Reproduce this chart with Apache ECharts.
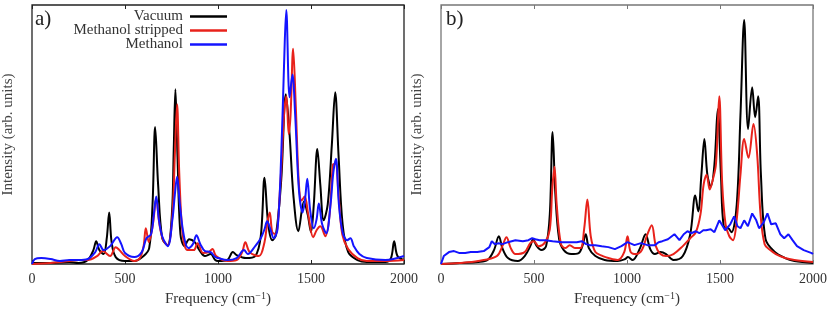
<!DOCTYPE html>
<html>
<head>
<meta charset="utf-8">
<script src="https://cdn.jsdelivr.net/npm/echarts@6/dist/echarts.min.js"></script>
<style>html,body{margin:0;padding:0;background:#fff}#c{width:830px;height:312px}</style>
</head>
<body>
<div id="c"></div>
<script>
// Frequency axis ticks
const xTicks = [0, 500, 1000, 1500, 2000];
const seriesNames = ['Vacuum', 'Methanol stripped', 'Methanol'];
const panelLabels = ['a)', 'b)'];

// Panel a: [frequency (cm^-1), intensity (arb. units)]
const aVacuum = [[0,1],[100,1],[200,2],[250,1],[300,4],[330,14],[345,23],[362,14],[385,10],[402,26],[415,52],[428,22],[450,7],[500,3],[550,3],[600,8],[630,16],[648,60],[662,138],[678,80],[700,26],[729,19],[752,50],[762,115],[771,176],[782,110],[798,30],[820,18],[845,25],[875,22],[900,14],[930,8],[960,10],[985,4],[1000,3],[1050,4],[1080,12],[1100,9],[1150,6],[1200,8],[1230,28],[1250,87],[1270,40],[1292,24],[1312,30],[1340,85],[1365,171],[1385,130],[1405,70],[1432,33],[1462,63],[1482,50],[1500,32],[1515,60],[1534,116],[1550,80],[1568,44],[1590,60],[1612,120],[1630,173],[1648,110],[1670,40],[1700,12],[1750,4],[1800,2],[1900,2],[1930,6],[1947,23],[1965,8],[2000,4]];
const aStripped = [[0,0],[100,1],[200,3],[250,4],[300,4],[350,8],[380,13],[420,8],[450,17],[470,14],[500,8],[550,3],[580,6],[600,18],[612,36],[628,22],[650,40],[668,66],[685,40],[705,24],[730,19],[755,50],[768,110],[780,161],[792,90],[810,30],[835,14],[870,14],[890,21],[920,11],[950,12],[970,15],[990,8],[1050,3],[1100,4],[1130,12],[1147,22],[1170,12],[1220,8],[1250,22],[1265,42],[1278,52],[1292,32],[1310,30],[1335,80],[1355,150],[1368,169],[1380,131],[1390,150],[1404,217],[1418,160],[1435,80],[1450,64],[1466,68],[1485,50],[1512,27],[1530,34],[1550,38],[1577,28],[1600,50],[1618,100],[1632,101],[1648,70],[1668,30],[1700,15],[1750,6],[1800,3],[1900,3],[2000,4]];
const aMethanol = [[0,0],[15,5],[50,6],[100,5],[150,3],[200,4],[250,4],[300,5],[340,12],[362,20],[385,14],[420,18],[458,27],[480,20],[500,11],[550,7],[590,12],[615,26],[640,30],[655,50],[668,68],[682,45],[700,28],[730,18],[755,45],[768,70],[780,88],[795,60],[815,30],[840,16],[865,20],[884,29],[905,20],[930,13],[960,12],[985,7],[1000,6],[1050,4],[1100,6],[1140,14],[1160,10],[1200,18],[1230,26],[1250,35],[1264,43],[1280,36],[1300,26],[1320,35],[1340,110],[1355,200],[1367,256],[1385,168],[1400,191],[1415,150],[1435,75],[1455,52],[1468,65],[1480,86],[1495,55],[1515,36],[1530,45],[1542,61],[1560,40],[1582,31],[1605,60],[1620,92],[1634,106],[1650,60],[1670,32],[1695,24],[1712,26],[1730,18],[1760,10],[1800,6],[1900,4],[2000,8]];

// Panel b
const bVacuum = [[0,0],[100,1],[200,2],[250,4],[285,14],[311,28],[330,16],[360,6],[413,3],[450,8],[480,18],[495,25],[515,18],[540,14],[565,18],[585,50],[600,133],[615,70],[635,25],[660,14],[700,10],[740,11],[760,18],[778,30],[795,16],[830,8],[880,4],[950,3],[990,5],[1005,7],[1030,4],[1070,16],[1100,30],[1125,15],[1150,10],[1180,12],[1210,10],[1250,4],[1300,8],[1340,30],[1367,69],[1383,53],[1400,90],[1416,126],[1432,90],[1450,78],[1470,100],[1488,156],[1505,90],[1520,38],[1545,36],[1562,32],[1590,60],[1610,150],[1630,246],[1651,136],[1673,178],[1689,148],[1705,169],[1720,90],[1745,25],[1790,13],[1850,6],[1900,3],[2000,1]];
const bStripped = [[0,0],[100,1],[200,3],[300,8],[330,18],[352,27],[375,16],[400,10],[450,12],[480,21],[500,23],[525,18],[560,22],[585,35],[598,75],[610,98],[622,60],[645,20],[670,16],[692,19],[720,16],[750,16],[770,36],[787,65],[805,28],[830,12],[870,8],[900,6],[950,4],[985,12],[1003,28],[1020,12],[1050,10],[1080,14],[1110,30],[1133,39],[1155,18],[1180,10],[1210,8],[1250,10],[1300,18],[1340,26],[1370,32],[1395,50],[1412,80],[1428,90],[1445,75],[1460,84],[1478,100],[1496,169],[1512,80],[1530,40],[1550,28],[1570,24],[1590,45],[1610,90],[1630,126],[1653,107],[1680,141],[1700,110],[1718,50],[1740,20],[1770,14],[1800,10],[1850,6],[1900,4],[2000,2]];
const bMethanol = [[0,0],[15,8],[43,12],[70,13],[100,11],[130,11],[160,12],[195,12],[230,13],[260,17],[273,23],[290,20],[310,21],[330,20],[360,22],[400,24],[440,23],[470,24],[490,26],[508,25],[530,24],[560,24],[600,23],[650,22],[700,22],[730,22],[757,23],[780,20],[800,19],[830,19],[864,18],[900,17],[935,15],[970,18],[1003,22],[1040,19],[1075,21],[1110,19],[1150,19],[1170,22],[1190,23],[1220,25],[1255,30],[1282,24],[1305,30],[1325,33],[1345,31],[1370,33],[1389,31],[1410,34],[1425,34],[1450,35],[1470,32],[1496,44],[1528,34],[1555,40],[1576,48],[1594,38],[1610,36],[1630,44],[1650,38],[1673,51],[1695,44],[1710,36],[1735,42],[1755,51],[1775,40],[1800,41],[1824,30],[1845,26],[1868,30],[1890,24],[1914,18],[1950,14],[1993,11],[2000,10]];

const colors = ['#000000', '#e8221b', '#1414ff'];
const FONT = 'Liberation Serif';
const chart = echarts.init(document.getElementById('c'), null, {renderer: 'canvas'});

function xAx(gi, pos, show, border) {
  return {
    type: 'value', gridIndex: gi, position: pos, min: xTicks[0], max: xTicks[xTicks.length-1],
    interval: xTicks[1]-xTicks[0],
    axisLine: {show: false},
    axisTick: {show: true, inside: true, length: 4, lineStyle: {color: border, width: 1}},
    splitLine: {show: false},
    axisLabel: {show: show, color: '#333', fontFamily: FONT, fontSize: 14, margin: 8,
      formatter: function (v) { return String(v); }},
    name: show ? 'Frequency (cm{sup|\u22121})' : '',
    nameLocation: 'middle', nameGap: 27,
    nameTextStyle: {color: '#333', fontFamily: FONT, fontSize: 15,
      rich: {sup: {fontFamily: FONT, fontSize: 10, verticalAlign: 'top', padding: [0,0,7,0], color: '#333'}}}
  };
}
function yAx(gi) {
  return {
    type: 'value', gridIndex: gi, min: 0, max: 261,
    axisLine: {show: false}, axisTick: {show: false}, axisLabel: {show: false}, splitLine: {show: false},
    name: 'Intensity (arb. units)', nameLocation: 'middle', nameGap: 16,
    nameTextStyle: {color: '#444', fontFamily: FONT, fontSize: 15}
  };
}
function ser(name, data, xi, yi, ci, smooth) {
  return {name: name, type: 'line', data: data, xAxisIndex: xi, yAxisIndex: yi,
    showSymbol: false, smooth: smooth, animation: false,
    lineStyle: {color: colors[ci], width: 2}, itemStyle: {color: colors[ci]}};
}
const legendTops = [9, 23, 37];
const option = {
  animation: false,
  grid: [
    {left: 31, right: 426, top: 5, bottom: 46, show: true, borderColor: '#222', borderWidth: 1.3, backgroundColor: 'transparent'},
    {left: 441, right: 16, top: 5, bottom: 46, show: true, borderColor: '#777', borderWidth: 1.3, backgroundColor: 'transparent'}
  ],
  xAxis: [xAx(0, 'bottom', true, '#222'), xAx(0, 'top', false, '#222'), xAx(1, 'bottom', true, '#777'), xAx(1, 'top', false, '#777')],
  yAxis: [yAx(0), yAx(1)],
  title: [
    {text: panelLabels[0], left: 35, top: 9, padding: 0, textStyle: {fontFamily: FONT, fontSize: 21, fontWeight: 'normal', color: '#222'}},
    {text: panelLabels[1], left: 446, top: 9, padding: 0, textStyle: {fontFamily: FONT, fontSize: 21, fontWeight: 'normal', color: '#222'}}
  ],
  legend: seriesNames.map((n, i) => ({
    data: [n], right: 603, top: legendTops[i], orient: 'vertical', align: 'right', padding: 0,
    icon: 'rect', itemWidth: 37, itemHeight: 2.5, itemGap: 10,
    textStyle: {fontFamily: FONT, fontSize: 15, color: '#333', padding: [0, 2, 0, 0]}
  })),
  series: [
    ser(seriesNames[0], aVacuum, 0, 0, 0, 0.35),
    ser(seriesNames[1], aStripped, 0, 0, 1, 0.35),
    ser(seriesNames[2], aMethanol, 0, 0, 2, 0.35),
    ser(seriesNames[0], bVacuum, 2, 1, 0, 0.35),
    ser(seriesNames[1], bStripped, 2, 1, 1, 0.35),
    ser(seriesNames[2], bMethanol, 2, 1, 2, false)
  ]
};
chart.setOption(option);
</script>
</body>
</html>
